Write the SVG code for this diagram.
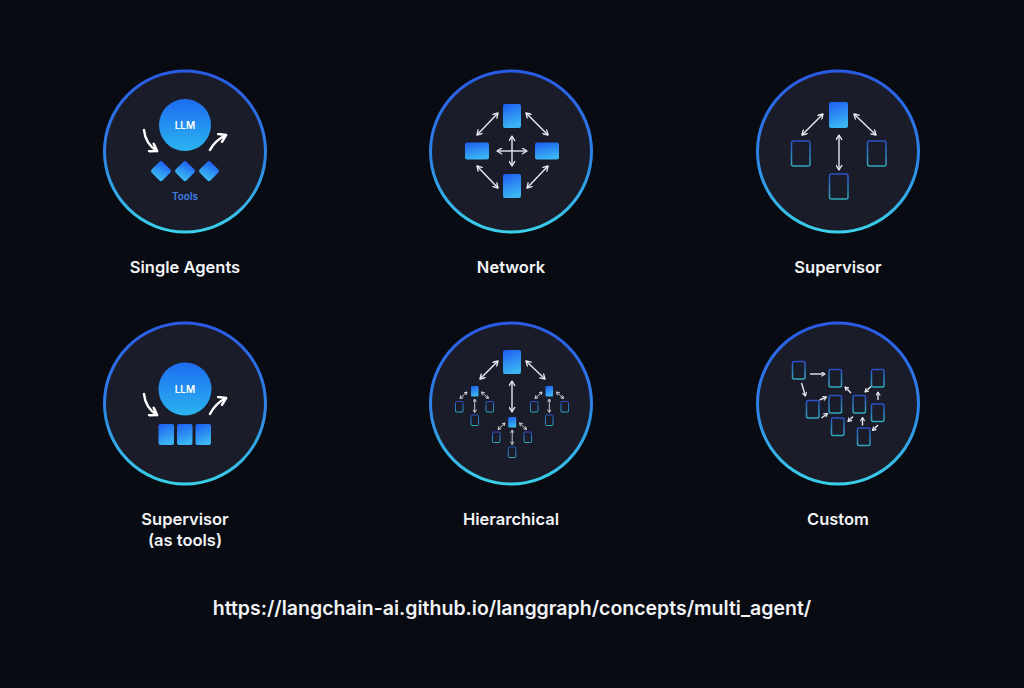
<svg xmlns="http://www.w3.org/2000/svg" width="1024" height="688" viewBox="0 0 1024 688">
<defs>
<linearGradient id="ring" x1="0" y1="0" x2="0" y2="1">
<stop offset="0" stop-color="#2a5ae6"/>
<stop offset="0.55" stop-color="#2d86e6"/>
<stop offset="1" stop-color="#3ad0ea"/>
</linearGradient>
<linearGradient id="blue" x1="0" y1="0" x2="0.3" y2="1">
<stop offset="0" stop-color="#1d5cf2"/>
<stop offset="1" stop-color="#3ab4f2"/>
</linearGradient>
<linearGradient id="llm" x1="0" y1="0" x2="0" y2="1">
<stop offset="0" stop-color="#1d6cf0"/>
<stop offset="1" stop-color="#2ab4f0"/>
</linearGradient>
<linearGradient id="outl" x1="0" y1="0" x2="0" y2="1">
<stop offset="0" stop-color="#2a50c4"/>
<stop offset="1" stop-color="#2fa8b8"/>
</linearGradient>
<marker id="ah" viewBox="0 0 10 10" refX="8.5" refY="5" markerWidth="7" markerHeight="7" orient="auto-start-reverse" markerUnits="userSpaceOnUse">
<path d="M2,1 L8.5,5 L2,9" fill="none" stroke="#e6e9ef" stroke-width="1.9" stroke-linecap="round" stroke-linejoin="round"/>
</marker>
<marker id="ahs" viewBox="0 0 10 10" refX="8.5" refY="5" markerWidth="4" markerHeight="4" orient="auto-start-reverse" markerUnits="userSpaceOnUse">
<path d="M2,1 L8.5,5 L2,9" fill="none" stroke="#d8dbe2" stroke-width="2.2" stroke-linecap="round" stroke-linejoin="round"/>
</marker>
<marker id="ahm" viewBox="0 0 10 10" refX="8.5" refY="5" markerWidth="5" markerHeight="5" orient="auto-start-reverse" markerUnits="userSpaceOnUse">
<path d="M2,1 L8.5,5 L2,9" fill="none" stroke="#e6e9ef" stroke-width="2.2" stroke-linecap="round" stroke-linejoin="round"/>
</marker>
<marker id="ahb" viewBox="0 0 10 10" refX="8" refY="5" markerWidth="11" markerHeight="11" orient="auto" markerUnits="userSpaceOnUse">
<path d="M2,1 L8,5 L2,9" fill="none" stroke="#ffffff" stroke-width="2.3" stroke-linecap="round" stroke-linejoin="round"/>
</marker>
</defs>
<style>
.ring{fill:#1a1d29;stroke:url(#ring);stroke-width:3}
.lbl{font-family:Inter,"Liberation Sans",sans-serif;font-size:16.5px;font-weight:600;fill:#f2f3f6;text-anchor:middle}
.llmt{font-family:Inter,"Liberation Sans",sans-serif;font-size:10px;font-weight:600;fill:#ffffff;text-anchor:middle}
.box{fill:url(#blue)}
.ob{fill:none;stroke:url(#outl);stroke-width:1.5}
.obs{fill:none;stroke:url(#outl);stroke-width:1}
.ar{fill:none;stroke:#e6e9ef;stroke-width:1.4;marker-start:url(#ah);marker-end:url(#ah)}
.ars{fill:none;stroke:#d8dbe2;stroke-width:0.9;marker-start:url(#ahs);marker-end:url(#ahs)}
.arc{fill:none;stroke:#e6e9ef;stroke-width:1.4;marker-end:url(#ahm)}
.arb{fill:none;stroke:#ffffff;stroke-width:2.5;stroke-linecap:round;marker-end:url(#ahb)}
</style>
<rect width="1024" height="688" fill="#080b12"/>

<g id="single-agents">
<circle class="ring" cx="185" cy="151.5" r="80.5"/>
<circle cx="185" cy="125" r="26" fill="url(#llm)"/>
<text class="llmt" x="185" y="128.5">LLM</text>
<rect class="box" x="153.3" y="163.3" width="15.5" height="15.5" rx="2.5" transform="rotate(45 161 171)"/>
<rect class="box" x="177.3" y="163.3" width="15.5" height="15.5" rx="2.5" transform="rotate(45 185 171)"/>
<rect class="box" x="201.3" y="163.3" width="15.5" height="15.5" rx="2.5" transform="rotate(45 209 171)"/>
<text x="185" y="200" style="font-family:Inter,'Liberation Sans',sans-serif;font-size:10px;font-weight:600;fill:#3d7fe6;text-anchor:middle">Tools</text>
<text class="lbl" x="185" y="273">Single Agents</text>
</g>

<g id="network">
<circle class="ring" cx="511" cy="151.5" r="80.5"/>
<rect class="box" x="503" y="104" width="18" height="24" rx="2"/>
<rect class="box" x="503" y="174" width="18" height="24" rx="2"/>
<rect class="box" x="465" y="142.5" width="24" height="17" rx="2"/>
<rect class="box" x="535" y="142.5" width="24" height="17" rx="2"/>
<text class="lbl" x="511" y="273">Network</text>
</g>

<g id="supervisor">
<circle class="ring" cx="838" cy="151.5" r="80.5"/>
<rect class="box" x="829" y="102" width="19" height="26" rx="2"/>
<rect class="ob" x="791.5" y="141" width="18.5" height="25" rx="2"/>
<rect class="ob" x="867.5" y="141" width="18.5" height="25" rx="2"/>
<rect class="ob" x="829.5" y="174" width="18.5" height="25" rx="2"/>
<text class="lbl" x="838" y="273">Supervisor</text>
</g>

<g id="supervisor-as-tools">
<circle class="ring" cx="185" cy="403.5" r="80.5"/>
<circle cx="185" cy="389" r="26.5" fill="url(#llm)"/>
<text class="llmt" x="185" y="392.5">LLM</text>
<rect class="box" x="158.5" y="424" width="15.5" height="21" rx="2"/>
<rect class="box" x="177" y="424" width="15.5" height="21" rx="2"/>
<rect class="box" x="195.5" y="424" width="15.5" height="21" rx="2"/>
<text class="lbl" x="185" y="525">Supervisor</text>
<text class="lbl" x="185" y="546">(as tools)</text>
</g>

<g id="hierarchical">
<circle class="ring" cx="511" cy="403.5" r="80.5"/>
<rect class="box" x="503" y="350" width="18" height="24" rx="2"/>
<rect class="box" x="471" y="386" width="7.5" height="10.5" rx="1"/>
<rect class="box" x="545.5" y="386" width="7.5" height="10.5" rx="1"/>
<rect class="box" x="508.2" y="417" width="8" height="10.5" rx="1"/>
<rect class="obs" x="455.5" y="401.5" width="7.5" height="10.5" rx="1"/>
<rect class="obs" x="486" y="401.5" width="7.5" height="10.5" rx="1"/>
<rect class="obs" x="471" y="415" width="7.5" height="10.5" rx="1"/>
<rect class="obs" x="530.5" y="401.5" width="7.5" height="10.5" rx="1"/>
<rect class="obs" x="561" y="401.5" width="7.5" height="10.5" rx="1"/>
<rect class="obs" x="545.5" y="415" width="7.5" height="10.5" rx="1"/>
<rect class="obs" x="492.5" y="432" width="7.5" height="10.5" rx="1"/>
<rect class="obs" x="524" y="432" width="7.5" height="10.5" rx="1"/>
<rect class="obs" x="508.3" y="447" width="7.5" height="10.5" rx="1"/>
<text class="lbl" x="511" y="525">Hierarchical</text>
</g>

<g id="custom">
<circle class="ring" cx="838" cy="403.5" r="80.5"/>
<rect class="ob" x="792.5" y="361.5" width="12.5" height="17.5" rx="1.5"/>
<rect class="ob" x="829" y="369.5" width="12.5" height="17.5" rx="1.5"/>
<rect class="ob" x="871.5" y="369.5" width="12.5" height="17.5" rx="1.5"/>
<rect class="ob" x="806.5" y="400.5" width="12.5" height="17.5" rx="1.5"/>
<rect class="ob" x="829" y="395.5" width="12.5" height="17.5" rx="1.5"/>
<rect class="ob" x="853" y="395.5" width="12.5" height="17.5" rx="1.5"/>
<rect class="ob" x="871.5" y="404" width="12.5" height="17.5" rx="1.5"/>
<rect class="ob" x="831.5" y="418" width="12.5" height="17.5" rx="1.5"/>
<rect class="ob" x="857.5" y="428" width="12.5" height="17.5" rx="1.5"/>
<text class="lbl" x="838" y="525">Custom</text>
</g>

<g id="connectors">
<path class="arb" d="M144,130 C145,140 149,146 157,151"/>
<path class="arb" d="M210,150 C213,144 218,139 226,135"/>
<path class="arb" d="M144,394 C145,404 149,410 157,415"/>
<path class="arb" d="M210,414 C213,408 218,402 226,398"/>

<path class="ar" d="M497,151 L527,151"/>
<path class="ar" d="M512,136 L512,166"/>
<path class="ar" d="M477,135 L498,113"/>
<path class="ar" d="M526,113 L548,135"/>
<path class="ar" d="M477,166 L498,188"/>
<path class="ar" d="M527,188 L548,166"/>

<path class="ar" d="M802,135 L823,114"/>
<path class="ar" d="M854,114 L876,135"/>
<path class="ar" d="M839,135 L839,170"/>

<path class="ar" d="M480,379 L498,361"/>
<path class="ar" d="M526,361 L545,379"/>
<path class="ar" d="M512,381 L512,412"/>
<path class="ars" d="M467,392 L460,398.5"/>
<path class="ars" d="M481.5,392 L488.5,398.5"/>
<path class="ars" d="M474.7,399 L474.7,412.5"/>
<path class="ars" d="M542,392 L535,398.5"/>
<path class="ars" d="M556.5,392 L563.5,398.5"/>
<path class="ars" d="M549.3,399 L549.3,412.5"/>
<path class="ars" d="M505,423 L498,429.5"/>
<path class="ars" d="M519.5,423 L526.5,429.5"/>
<path class="ars" d="M512.2,430 L512.2,444.5"/>

<path class="arc" d="M810,374 L825,374"/>
<path class="arc" d="M801.5,383 L805.5,396"/>
<path class="arc" d="M819.5,400 L826.5,397"/>
<path class="arc" d="M821.5,418 L827.5,413.5"/>
<path class="arc" d="M851,393 L845,387"/>
<path class="arc" d="M871,386.5 L865,392"/>
<path class="arc" d="M878,400 L878,392"/>
<path class="arc" d="M853,416.5 L848,421.5"/>
<path class="arc" d="M862.5,425.5 L862.5,417.5"/>
<path class="arc" d="M878,425 L872.5,430.5"/>
</g>

<text x="512" y="615" style="font-family:Inter,'Liberation Sans',sans-serif;font-size:19.5px;font-weight:600;fill:#f2f3f6;text-anchor:middle">https://langchain-ai.github.io/langgraph/concepts/multi_agent/</text>
</svg>
